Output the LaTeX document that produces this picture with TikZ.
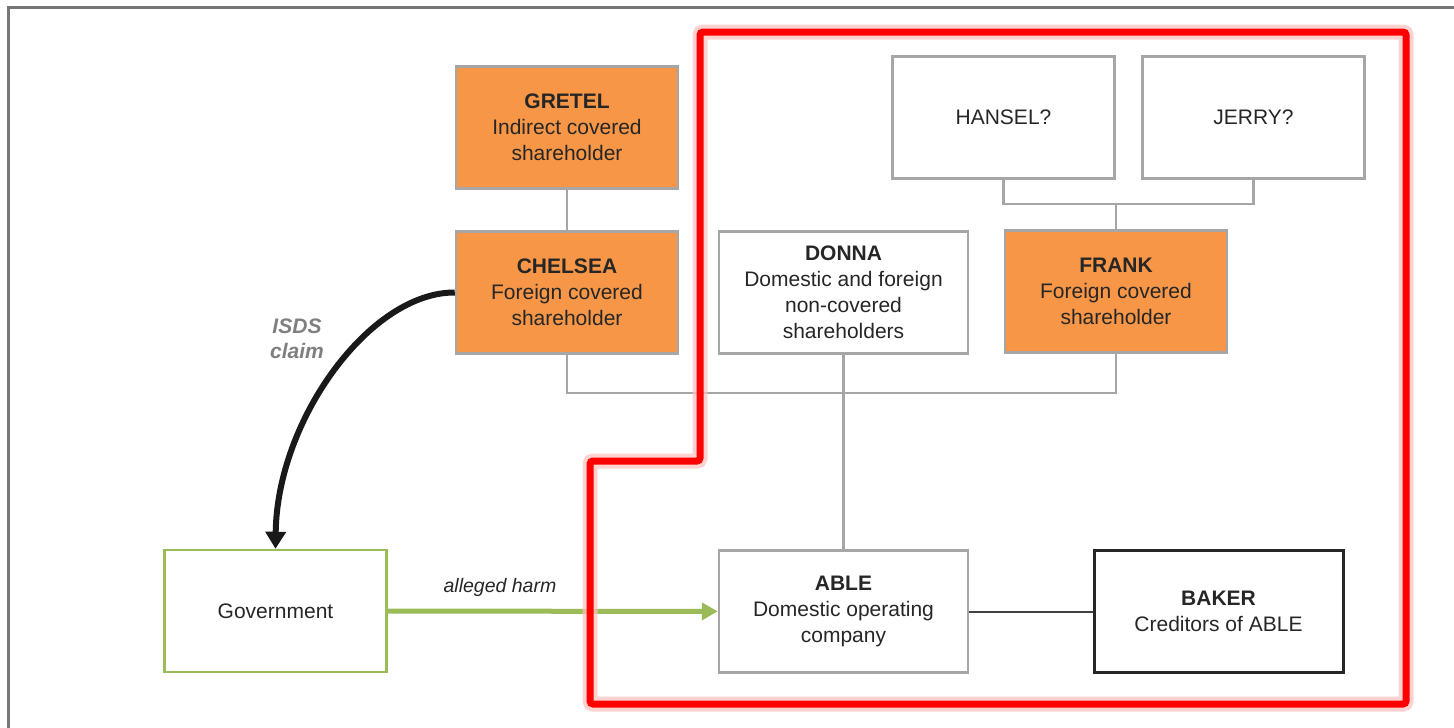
\documentclass[tikz,border=0pt]{standalone}
\usepackage{fontspec}
\setmainfont{Liberation Sans}
\usepackage{xcolor}
\usetikzlibrary{arrows.meta}
\definecolor{boxorange}{HTML}{F79646}
\definecolor{boxgray}{HTML}{A6A6A6}
\definecolor{govgreen}{HTML}{9BBB59}
\definecolor{txtgray}{HTML}{262626}
\definecolor{framegray}{HTML}{767676}
\definecolor{claimgray}{HTML}{7F7F7F}
\tikzset{
  party/.style={draw=boxgray, line width=2.5pt, minimum width=222pt,
    minimum height=122pt, align=center, text=txtgray,
    font=\fontsize{21}{26}\selectfont},
  wide/.style={party, minimum width=249pt},
  covered/.style={party, fill=boxorange},
  link/.style={draw=boxgray, line width=2.5pt},
  focus/.style={draw=red, line width=7pt, rounded corners=3pt},
}

\begin{document}
\begin{tikzpicture}[x=1pt,y=-1pt]
    \useasboundingbox (0,0) rectangle (1454,728);
    \draw [framegray, line width=3pt] (8.5,728) -- (8.5,7.5) -- (1454,7.5);

    % shareholders
    \node[covered] (gretel) at (567,127.5) {\textbf{GRETEL}\\Indirect covered\\shareholder};
    \node[covered] (chelsea) at (567,292.5) {\textbf{CHELSEA}\\Foreign covered\\shareholder};
    \node[wide] (donna) at (843.5,292.5) {\textbf{DONNA}\\Domestic and foreign\\non-covered\\shareholders};
    \node[covered] (frank) at (1116,291.5) {\textbf{FRANK}\\Foreign covered\\shareholder};
    \node[party] (hansel) at (1003.5,117.5) {HANSEL?};
    \node[party] (jerry) at (1253.5,117.5) {JERRY?};

    % company and others
    \node[party, draw=govgreen] (gov) at (275.5,611) {Government};
    \node[wide] (able) at (843.5,611.5) {\textbf{ABLE}\\Domestic operating\\company};
    \node[wide, draw=black!85, line width=3pt] (baker) at (1218.5,611.5) {\textbf{BAKER}\\Creditors of ABLE};

    \coordinate (hj) at (1116,204);
    \coordinate (owners) at (843.5,393);

    \draw[link] (gretel) -- (chelsea);
    \draw[link] (hansel.south) |- (hj) -| (jerry.south);
    \draw[link] (hj) -- (frank.north);
    \draw[link] (chelsea.south) |- (owners) -| (frank.south);
    \draw[link] (donna) -- (able);
    \draw[draw=black!75, line width=2pt] (able) -- (baker);

    \draw[govgreen, line width=5pt, -{Triangle[length=16pt,width=17pt]}] (gov) --
      node[pos=0.34, above=9pt, text=txtgray, font=\fontsize{19.5}{22}\selectfont\itshape] {alleged harm} (able);

    \draw[black!90, line width=6pt, -{Triangle[length=17pt,width=20pt]}]
      (chelsea.west) .. controls (370,292) and (277,420) .. (gov.north);
    \node[align=center, text=claimgray, font=\fontsize{21}{25}\selectfont\bfseries\itshape] (isds) at (297,339) {ISDS\\claim};

    % red outline
    \draw[focus, draw=red!25, line width=15pt, opacity=0.7] (700,32) -- (1406,32) -- (1406,704) -- (590,704) -- (590,461) -- (700,461) -- cycle;
    \draw[focus] (700,32) -- (1406,32) -- (1406,704) -- (590,704) -- (590,461) -- (700,461) -- cycle;
  \end{tikzpicture}
\end{document}
